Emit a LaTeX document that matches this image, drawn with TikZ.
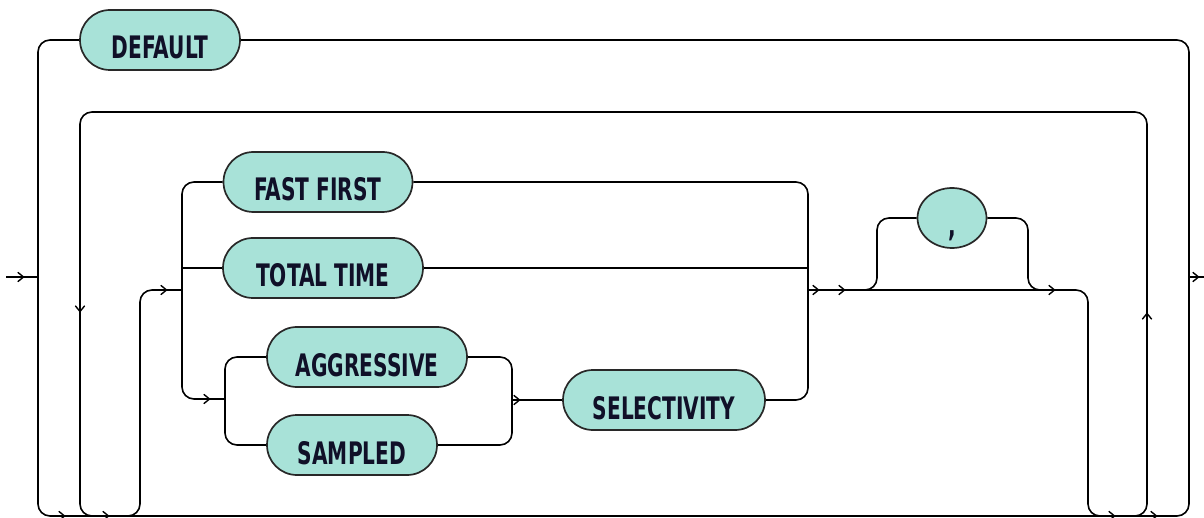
\documentclass[tikz,border=0pt]{standalone}
\usepackage{fontspec}
\usetikzlibrary{shapes.misc,shapes.geometric}
\newfontfamily\rrfont{DejaVu Sans}[FakeStretch=0.65]
\definecolor{pill}{RGB}{168,226,216}
\definecolor{pilledge}{RGB}{40,40,40}
\definecolor{ink}{RGB}{16,16,40}
\begin{document}
\begin{tikzpicture}[x=1pt,y=-1pt,
  rail/.style={line width=1.6pt, black, rounded corners=12pt},
  term/.style={rounded rectangle, draw=pilledge, line width=1.7pt, fill=pill,
    minimum height=60pt, inner sep=0pt, text height=38pt, text depth=0pt,
    font=\rrfont\bfseries\fontsize{31pt}{31pt}\selectfont, text=ink},
  chev/.pic={\draw[line width=1.4pt, line cap=round, line join=round] (-4,-4.5) -- (1.5,0) -- (-4,4.5);}
]
\useasboundingbox (0,0) rectangle (1204,518);

% terminals
\node[term, minimum width=160pt] (def) at (160,40) {DEFAULT};
\node[term, minimum width=189pt] (ff) at (318,182) {FAST FIRST};
\node[term, minimum width=200pt] (tt) at (323,268) {TOTAL TIME};
\node[term, minimum width=200pt] (agg) at (367,357) {AGGRESSIVE};
\node[term, minimum width=170pt] (samp) at (352,445) {SAMPLED};
\node[term, minimum width=202pt] (sel) at (664,400) {SELECTIVITY};
\node[term, ellipse, minimum width=69pt] (comma) at (952,218) {,};

% named points
\coordinate (in) at (6,277);
\coordinate (out) at (1204,277);
\coordinate (oL) at (38,277);
\coordinate (oLB) at (38,516);
\coordinate (oR) at (1189,277);
\coordinate (oRT) at (1189,40);
\coordinate (lpL) at (80,112);
\coordinate (lpR) at (1147,516);
\coordinate (iIn) at (140,290);
\coordinate (iL) at (182,290);
\coordinate (iLB) at (182,399);
\coordinate (sL) at (225,399);
\coordinate (sR) at (512,400);
\coordinate (iR) at (808,290);
\coordinate (iRB) at (808,400);
\coordinate (cL) at (877,218);
\coordinate (cR) at (1028,290);
\coordinate (mR) at (1088,516);

% rails
\draw[rail] (in) -- (oL);
\draw[rail] (oR) -- (out);
\draw[rail] (def.west) -| (oLB) -| (oRT) -- (def.east);
\draw[rail] (100,516) -| (lpL) -| (lpR) -- (1130,516);
\draw[rail] (122,516) -| (iIn) -- (iL);
\draw[rail] (ff.west) -| (iLB) -- (sL);
\draw[rail] (182,268) -- (tt.west);
\draw[rail] (agg.west) -| (225,445) -- (samp.west);
\draw[rail] (agg.east) -| (512,445) -- (samp.east);
\draw[rail] (sR) -- (sel.west);
\draw[rail] (ff.east) -| (iRB) -- (sel.east);
\draw[rail] (tt.east) -- (808,268);
\draw[rail] (iR) -| (mR) -- (1106,516);
\draw[rail] (862,290) -| (cL) -- (comma.west);
\draw[rail] (comma.east) -| (cR) -- (1044,290);

% arrow marks
\foreach \p in {(22,277),(165,290),(208,399),(518,400),(817,290),(843,290),(1053,290),(63,516),(107,516),(1113,516),(1155,516),(1197,277)}
  \pic at \p {chev};
\pic[rotate=-90] at (80,310) {chev};
\pic[rotate=90] at (1147,315) {chev};
\end{tikzpicture}
\end{document}
